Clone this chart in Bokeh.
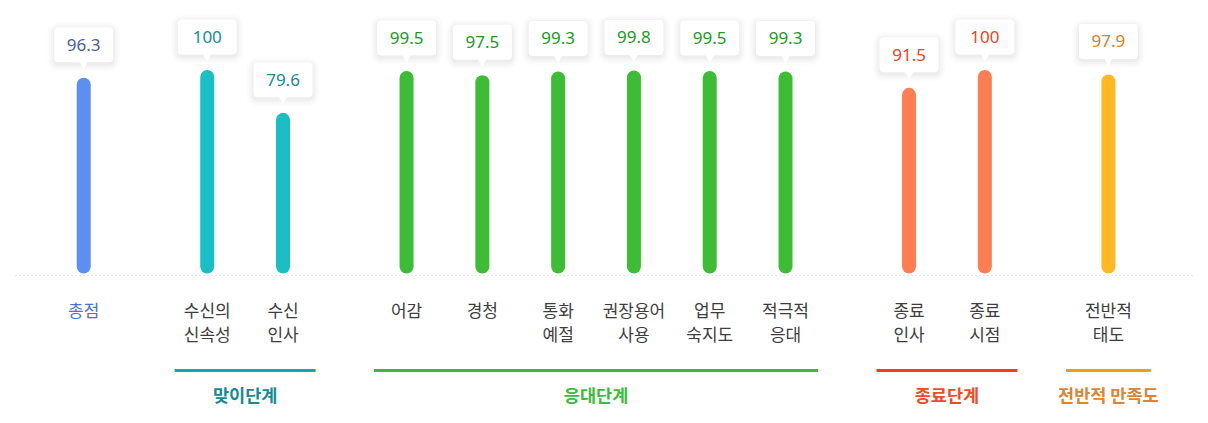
from bokeh.core.properties import value
from bokeh.embed import file_html
from bokeh.models import ColumnDataSource, Range1d
from bokeh.plotting import figure
from bokeh.resources import INLINE

# --- data -------------------------------------------------------------
groups = ["총점", "맞이단계", "응대단계", "종료단계", "전반적 만족도"]
items = [
    "총점", "수신의\n신속성", "수신\n인사",
    "어감", "경청", "통화\n예절", "권장용어\n사용", "업무\n숙지도", "적극적\n응대",
    "종료\n인사", "종료\n시점",
    "전반적\n태도",
]
item_group = [0, 1, 1, 2, 2, 2, 2, 2, 2, 3, 3, 4]
scores = [96.3, 100, 79.6, 99.5, 97.5, 99.3, 99.8, 99.5, 99.3, 91.5, 100, 97.9]

# colours per group
bar_colors = ["#5b8ff0", "#1abfc6", "#3cbd35", "#ff7d52", "#ffb822"]
value_colors = ["#4a5f9c", "#158b94", "#1d991d", "#f0431a", "#d57f26"]
line_colors = ["#4a72d6", "#10a8b0", "#3db83a", "#f4400f", "#f59d0c"]
group_text_colors = ["#4a72d6", "#168a92", "#3cba3c", "#f24a22", "#dc8430"]

# --- layout -----------------------------------------------------------
W, H = 1208, 423
UNIT = 75.79      # px per bar slot
GAP = 0.63        # extra slots between groups
FIRST = 83.2      # px from left to first bar
PXY = 2.1         # px per score point
TOP = 76.5        # px from top where a score of 100 ends

Y_HI = 100 + TOP / PXY
X_LO = -FIRST / UNIT


def fy(py):
    return Y_HI - py / PXY


def fx(px):
    return X_LO + px / UNIT


pos = [i + GAP * g for i, g in enumerate(item_group)]
base = fy(266)

p = figure(
    width=W,
    height=H,
    x_range=Range1d(X_LO, X_LO + W / UNIT),
    y_range=Range1d(Y_HI - H / PXY, Y_HI),
    output_backend="svg",
    toolbar_location=None,
    min_border=0,
)
p.axis.visible = False
p.grid.visible = False
p.outline_line_color = None

# dotted baseline
p.segment(x0=[fx(15)], x1=[fx(1195)], y0=[fy(275)], y1=[fy(275)],
          line_color="#cccccc", line_width=1, line_dash="1 3")

# bars
bc = [s + 40 / PXY for s in scores]
src = ColumnDataSource(dict(
    x=pos,
    y0=[base] * len(scores),
    y1=scores,
    bc=bc,
    color=[bar_colors[g] for g in item_group],
    vcolor=[value_colors[g] for g in item_group],
    label=[f"{s:g}" for s in scores],
    line1=[t.split("\n")[0] for t in items],
    line2=[(t.split("\n") + [""])[1] for t in items],
    lcolor=["#4a72d6" if g == 0 else "#3d3d3d" for g in item_group],
))
p.segment(x0="x", x1="x", y0="y0", y1="y1", source=src,
          line_color="color", line_width=14, line_cap="round")

# value tooltips
bw, bh = 29.5 / UNIT, 17.5 / PXY
for grow, alpha in [(7, 0.01), (5, 0.015), (3, 0.02), (1, 0.025)]:
    p.quad(left=[x - bw - grow / UNIT for x in pos],
           right=[x + bw + grow / UNIT for x in pos],
           top=[c + bh + grow / PXY - 2 / PXY for c in bc],
           bottom=[c - bh - grow / PXY - 2 / PXY for c in bc],
           fill_color="black", fill_alpha=alpha, line_color=None,
           border_radius=4 + grow)
p.quad(left=[x - bw for x in pos], right=[x + bw for x in pos],
       top=[c + bh for c in bc], bottom=[c - bh for c in bc],
       fill_color="white", line_color=None, border_radius=4)
p.scatter(x=pos, y=[s + 23 / PXY for s in scores], marker="inverted_triangle",
          size=13, fill_color="white", line_color=None)
p.text(x="x", y="bc", text="label", source=src, text_color="vcolor",
       text_font=value("Noto Sans"), text_font_size="17px",
       text_align="center", text_baseline="middle")

# category labels
for col, py in [("line1", 309), ("line2", 333)]:
    p.text(x="x", y=fy(py), text=col, source=src, text_color="lcolor",
           text_font=value("Noto Sans CJK KR"), text_font_size="17px",
           text_align="center", text_baseline="middle")

# group underline + group names
for g in range(1, len(groups)):
    idx = [i for i, k in enumerate(item_group) if k == g]
    ext = 0.43 if len(idx) > 1 else 0.56
    left, right = pos[idx[0]] - ext, pos[idx[-1]] + ext
    p.segment(x0=[left], x1=[right], y0=[fy(370)], y1=[fy(370)],
              line_color=line_colors[g], line_width=3)
    p.text(x=[(left + right) / 2], y=[fy(394)], text=[groups[g]],
           text_color=group_text_colors[g],
           text_font=value("Noto Sans CJK KR"), text_font_size="17.5px",
           text_font_style="bold", text_align="center", text_baseline="middle")

open("out.html", "w").write(file_html(p, INLINE))
